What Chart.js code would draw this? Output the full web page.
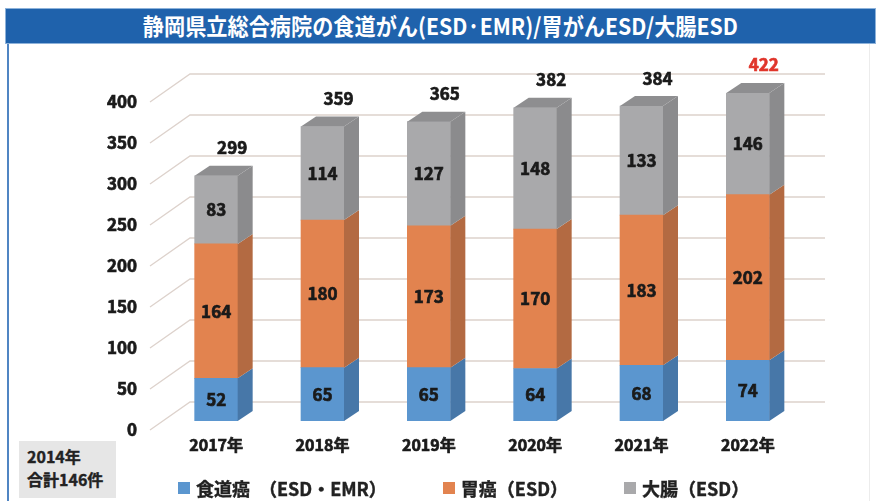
<!DOCTYPE html>
<html>
<head>
<meta charset="utf-8">
<script src="https://cdn.jsdelivr.net/npm/chart.js@4.4.0/dist/chart.umd.min.js"></script>
<style>
body { margin: 0; width: 876px; height: 501px; position: relative; background: #fff; overflow: hidden; font-family: 'Noto Sans CJK JP', 'Noto Sans', sans-serif; }
#title { position: absolute; left: 5px; top: 8px; width: 871px; height: 36px; box-sizing: border-box; background: #1f62ac; border: 1px solid #8db2da; color: #fff; font-weight: bold; font-size: 23px; line-height: 33px; text-align: center; }
#title span { display: inline-block; transform: scaleX(0.92); }
#leftline { position: absolute; left: 7px; top: 44px; width: 2px; height: 457px; background: #5085c3; }
#rightline { position: absolute; left: 869px; top: 44px; width: 1px; height: 457px; background: #ececec; }
#chart { position: absolute; left: 0; top: 0; }
#note { position: absolute; left: 19px; top: 441px; width: 97px; height: 57px; box-sizing: border-box; padding: 4px 0 0 8px; background: #e6e6e6; color: #222; font-weight: bold; font-size: 16px; line-height: 23px; -webkit-text-stroke: 0.4px #222; }
#legend-wrapper { position: absolute; left: 178px; top: 474px; display: flex; gap: 56px; color: #222; font-weight: bold; font-size: 18px; line-height: 28px; -webkit-text-stroke: 0.4px #222; }
.legend-item { display: flex; align-items: center; }
.legend-color { width: 12px; height: 12px; margin-right: 6px; }
</style>
</head>
<body>
<div id="title"><span>静岡県立総合病院の食道がん(ESD·EMR)/胃がんESD/大腸ESD</span></div>
<div id="leftline"></div>
<div id="rightline"></div>
<canvas id="chart" width="876" height="501"></canvas>
<div id="note">2014年<br>合計146件</div>
<div id="legend-wrapper"></div>
<script>
// data
const years = ['2017年', '2018年', '2019年', '2020年', '2021年', '2022年'];
const esophagus = [52, 65, 65, 64, 68, 74];
const stomach = [164, 180, 173, 170, 183, 202];
const colon = [83, 114, 127, 148, 133, 146];
const seriesNames = ['食道癌　（ESD・EMR）', '胃癌（ESD）', '大腸（ESD）'];
const yMin = 0, yMax = 400, yStep = 50;
const highlightYear = '2022年';

// styles
const chartStyles = {
    front: ['#5b96cf', '#e2834f', '#a9a9ab'],
    side: ['#4777a8', '#b36a42', '#8b8b8d'],
    top: '#8e8e90',
    depthX: 15, // bar depth, going right
    depthY: -10, // and up
    gridColor: '#ddd2cc',
    floorX: 40, // floor depth for the grid lines
    floorY: -28,
    floorFront: 9, // front edge of the floor below the bar front plane
    fontFamily: "'Noto Sans CJK JP', 'Noto Sans', sans-serif",
    textColor: '#1a1a1a',
    textStroke: 0.7, // fake a heavier weight
    highlightColor: '#e0352b'
};

const totals = years.map((y, i) => esophagus[i] + stomach[i] + colon[i]);

function heavyText(ctx, text, x, y, color) {
    ctx.fillStyle = color;
    ctx.strokeStyle = color;
    ctx.lineWidth = chartStyles.textStroke;
    ctx.fillText(text, x, y);
    ctx.strokeText(text, x, y);
}

// grid lines, bar sides and tops, value labels
const box3d = {
    id: 'box3d',
    beforeDatasetsDraw(chart) {
        const { ctx, chartArea: a, scales: { y } } = chart;
        ctx.save();
        ctx.strokeStyle = chartStyles.gridColor;
        ctx.lineWidth = 1.3;
        y.ticks.forEach(t => {
            const py = y.getPixelForValue(t.value) + chartStyles.floorFront;
            const x0 = a.left - 13;
            ctx.beginPath();
            ctx.moveTo(x0, py);
            ctx.lineTo(x0 + chartStyles.floorX, py + chartStyles.floorY);
            ctx.lineTo(a.right + 24, py + chartStyles.floorY);
            ctx.stroke();
        });
        ctx.restore();
    },
    afterDatasetsDraw(chart) {
        const { ctx, chartArea: a } = chart;
        const dx = chartStyles.depthX, dy = chartStyles.depthY;
        const n = chart.data.datasets.length;
        ctx.save();
        ctx.font = 'bold 17px ' + chartStyles.fontFamily;
        ctx.textAlign = 'center';
        ctx.textBaseline = 'middle';
        chart.data.datasets.forEach((ds, d) => {
            const meta = chart.getDatasetMeta(d);
            meta.data.forEach((el, i) => {
                const top = Math.max(el.y, a.top);
                const base = Math.min(el.base, a.bottom);
                if (base <= top) return;
                const r = el.x + el.width / 2, l = el.x - el.width / 2;
                ctx.fillStyle = chartStyles.side[d];
                ctx.beginPath();
                ctx.moveTo(r, top);
                ctx.lineTo(r + dx, top + dy);
                ctx.lineTo(r + dx, base + dy);
                ctx.lineTo(r, base);
                ctx.closePath();
                ctx.fill();
                if (d === n - 1) {
                    ctx.fillStyle = chartStyles.top;
                    ctx.beginPath();
                    ctx.moveTo(l, top);
                    ctx.lineTo(l + dx, top + dy);
                    ctx.lineTo(r + dx, top + dy);
                    ctx.lineTo(r, top);
                    ctx.closePath();
                    ctx.fill();
                }
                heavyText(ctx, ds.data[i], el.x, (top + base) / 2, chartStyles.textColor);
            });
        });
        // totals above the bars
        const last = chart.getDatasetMeta(n - 1);
        last.data.forEach((el, i) => {
            const top = Math.max(el.y, a.top);
            const color = years[i] === highlightYear ? chartStyles.highlightColor : chartStyles.textColor;
            heavyText(ctx, totals[i], el.x + 16, top - 28, color);
        });
        ctx.restore();
    }
};

const datasets = [esophagus, stomach, colon].map((values, d) => ({
    label: seriesNames[d],
    data: values,
    backgroundColor: chartStyles.front[d],
    borderWidth: 0,
    barThickness: 43
}));

const ctx = document.getElementById('chart');
const myChart = new Chart(ctx, {
    type: 'bar',
    data: { labels: years, datasets: datasets },
    options: {
        responsive: false,
        animation: false,
        layout: { padding: { top: 93, right: 75, bottom: 0, left: 0 } },
        plugins: { legend: { display: false }, tooltip: { enabled: false } },
        scales: {
            x: {
                stacked: true,
                grid: { display: false, drawTicks: false },
                border: { display: false },
                ticks: {
                    color: chartStyles.textColor,
                    textStrokeColor: chartStyles.textColor,
                    textStrokeWidth: chartStyles.textStroke,
                    padding: 14,
                    font: { family: chartStyles.fontFamily, size: 16, weight: 'bold' }
                },
                afterFit: s => { s.height = 80; }
            },
            y: {
                stacked: true,
                min: yMin,
                max: yMax,
                grid: { display: false, drawTicks: false },
                border: { display: false },
                ticks: {
                    stepSize: yStep,
                    color: chartStyles.textColor,
                    textStrokeColor: chartStyles.textColor,
                    textStrokeWidth: chartStyles.textStroke,
                    padding: 26,
                    labelOffset: 9,
                    font: { family: chartStyles.fontFamily, size: 17, weight: 'bold' }
                },
                afterFit: s => { s.width = 163; }
            }
        }
    },
    plugins: [box3d]
});

// custom legend
const legendContainer = document.getElementById('legend-wrapper');
datasets.forEach(dataset => {
    const legendItem = document.createElement('div');
    legendItem.classList.add('legend-item');
    const colorIndicator = document.createElement('div');
    colorIndicator.classList.add('legend-color');
    colorIndicator.style.backgroundColor = dataset.backgroundColor;
    const textBlock = document.createElement('span');
    textBlock.textContent = dataset.label;
    legendItem.appendChild(colorIndicator);
    legendItem.appendChild(textBlock);
    legendContainer.appendChild(legendItem);
});
</script>
</body>
</html>
